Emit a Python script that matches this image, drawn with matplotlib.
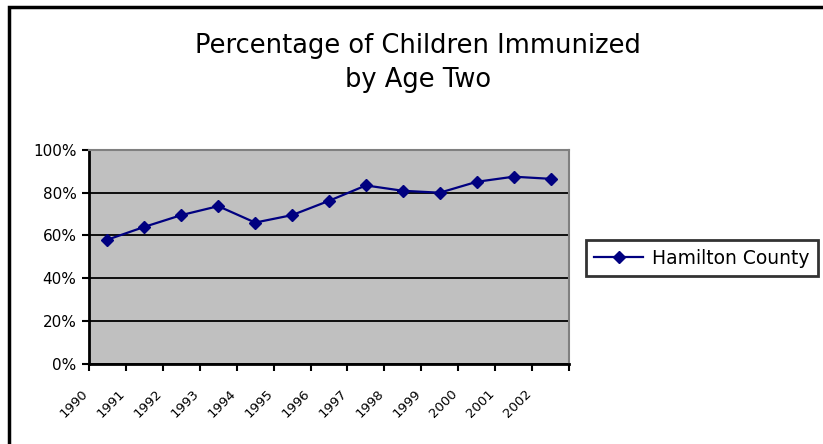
import matplotlib
matplotlib.use("Agg")
import matplotlib.pyplot as plt
from matplotlib.patches import Rectangle
from matplotlib.ticker import FuncFormatter

years = ["1990", "1991", "1992", "1993", "1994", "1995", "1996",
         "1997", "1998", "1999", "2000", "2001", "2002"]
values = [58, 64, 69.5, 73.7, 66, 69.5, 76.2, 83.4, 80.9, 80, 85.1, 87.5, 86.5]
series_name = "Hamilton County"
title = "Percentage of Children Immunized\nby Age Two"

plt.rcParams['font.family'] = ['DejaVu Sans']

fig = plt.figure(figsize=(8.23, 4.44), dpi=100)
fig.patch.set_facecolor('white')

# outer border (cropped at right/bottom)
fig.patches.append(Rectangle((8.5 / 823, -0.1), 1.2, (444 - 7.5) / 444 + 0.1,
                             transform=fig.transFigure, fill=False,
                             edgecolor='black', linewidth=2.5))

ax = fig.add_axes([89 / 823, (444 - 363.5) / 444, 480 / 823, 213.5 / 444])
ax.set_facecolor('#C0C0C0')

x = list(range(len(years)))
line, = ax.plot(x, values, color='#000080', linewidth=1.6, marker='D',
                markersize=6.5, label=series_name, zorder=3)

ax.set_xlim(-0.5, len(years) - 0.5)
ax.set_ylim(0, 100)
ax.set_yticks([0, 20, 40, 60, 80, 100])
ax.yaxis.set_major_formatter(FuncFormatter(lambda v, p: f"{int(v)}%"))
ax.grid(axis='y', color='black', linewidth=1.3)
ax.set_axisbelow(True)

bounds = [i - 0.5 for i in range(len(years) + 1)]
ax.set_xticks(bounds)
ax.set_xticklabels([""] * len(bounds))
for i, yr in enumerate(years):
    ax.annotate(yr, xy=(bounds[i], 0), xycoords=('data', 'axes fraction'),
                xytext=(-2, -20), textcoords='offset points',
                rotation=45, rotation_mode='anchor', ha='right', va='center',
                fontsize=9.5)

ax.tick_params(axis='both', direction='out', length=5, width=1.5, color='black',
               labelsize=11)
ax.tick_params(axis='y', pad=4)

for s in ['left', 'bottom']:
    ax.spines[s].set_color('black')
    ax.spines[s].set_linewidth(2)
for s in ['top', 'right']:
    ax.spines[s].set_color('#808080')
    ax.spines[s].set_linewidth(1.5)

fig.text(418 / 823, 1 - 63 / 444, title, ha='center', va='center',
         fontsize=18.5, linespacing=1.4)

leg = fig.legend(handles=[line], loc='center left',
                 bbox_to_anchor=(586 / 823, 1 - 258 / 444),
                 fontsize=13.5, frameon=True, fancybox=False,
                 handlelength=2.6, borderpad=0.45, handletextpad=0.45,
                 borderaxespad=0)
leg.get_frame().set_edgecolor('black')
leg.get_frame().set_linewidth(2)

fig.savefig("out.png", dpi=100)
